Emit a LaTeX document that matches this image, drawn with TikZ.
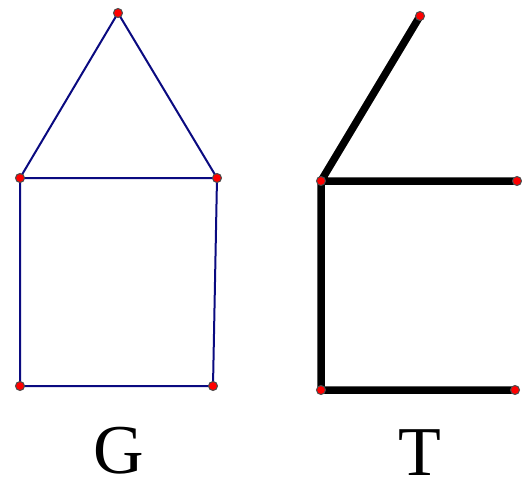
\documentclass[tikz,border=0pt]{standalone}
\usepackage{fontspec}
\setmainfont{Liberation Serif}
\begin{document}
\begin{tikzpicture}[x=1pt,y=-1pt,
  vtx/.style={circle,fill=red,draw=black!70,line width=1pt,inner sep=0pt,minimum size=9pt},
  gedge/.style={draw={rgb,255:red,10;green,10;blue,128},line width=2pt},
  tedge/.style={draw=black,line width=7.5pt},
  lbl/.style={font=\fontsize{70}{70}\selectfont,inner sep=0pt,anchor=base}]
\useasboundingbox (0,0) rectangle (522,482);
% G
\coordinate (g1) at (118,13);
\coordinate (g2) at (20,178);
\coordinate (g3) at (217,178);
\coordinate (g4) at (20,386);
\coordinate (g5) at (213,386);
\draw[gedge] (g1) -- (g2) (g1) -- (g3) (g2) -- (g3) (g2) -- (g4) (g3) -- (g5) (g4) -- (g5);
\foreach \n in {g1,g2,g3,g4,g5} \node[vtx] at (\n) {};
% T
\coordinate (t1) at (420,16);
\coordinate (t2) at (321,181);
\coordinate (t3) at (517,181);
\coordinate (t4) at (321,390);
\coordinate (t5) at (515,390);
\draw[tedge] (t1) -- (t2) (t2) -- (t3) (t2) -- (t4) (t4) -- (t5);
\foreach \n in {t1,t2,t3,t4,t5} \node[vtx] at (\n) {};
\node[lbl] (G) at (119,473) {G};
\node[lbl] (T) at (420,475) {T};
\end{tikzpicture}
\end{document}
